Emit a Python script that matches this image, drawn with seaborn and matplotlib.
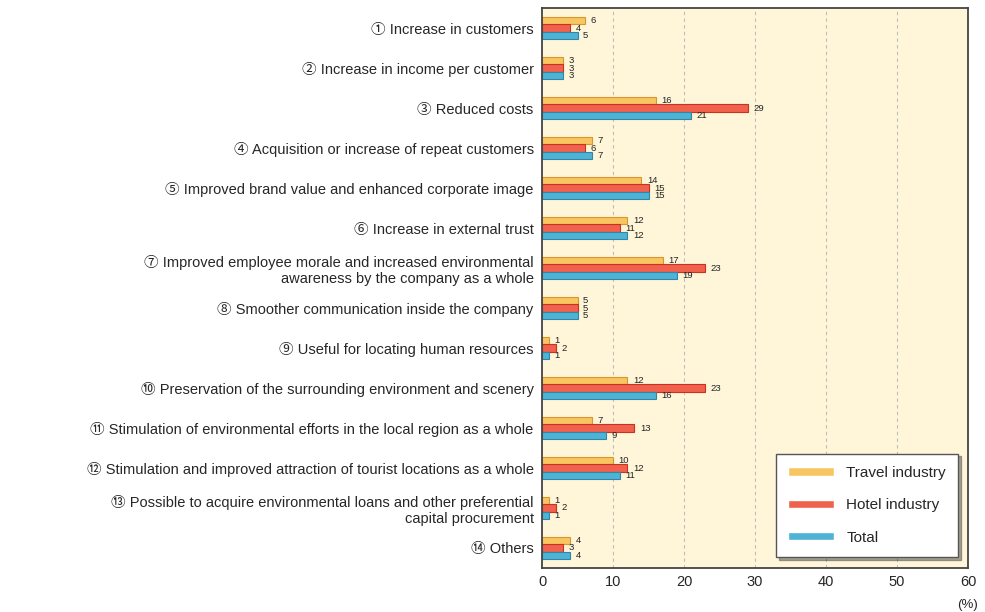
import matplotlib
matplotlib.use("Agg")
import matplotlib.pyplot as plt
import seaborn as sns
import pandas as pd
import numpy as np

categories = [
    "① Increase in customers",
    "② Increase in income per customer",
    "③ Reduced costs",
    "④ Acquisition or increase of repeat customers",
    "⑤ Improved brand value and enhanced corporate image",
    "⑥ Increase in external trust",
    "⑦ Improved employee morale and increased environmental\nawareness by the company as a whole",
    "⑧ Smoother communication inside the company",
    "⑨ Useful for locating human resources",
    "⑩ Preservation of the surrounding environment and scenery",
    "⑪ Stimulation of environmental efforts in the local region as a whole",
    "⑫ Stimulation and improved attraction of tourist locations as a whole",
    "⑬ Possible to acquire environmental loans and other preferential\ncapital procurement",
    "⑭ Others",
]
series = ["Travel industry", "Hotel industry", "Total"]
travel = [6, 3, 16, 7, 14, 12, 17, 5, 1, 12, 7, 10, 1, 4]
hotel = [4, 3, 29, 6, 15, 11, 23, 5, 2, 23, 13, 12, 2, 3]
total = [5, 3, 21, 7, 15, 12, 19, 5, 1, 16, 9, 11, 1, 4]
x_ticks = [0, 10, 20, 30, 40, 50, 60]

colors = ["#F7C562", "#F0614E", "#4FB3D6"]
edges = ["#D9962A", "#C8321F", "#2E86A8"]

sns.set_theme(style="white")
plt.rcParams["font.family"] = ["Liberation Sans", "Noto Sans CJK JP", "DejaVu Sans"]

df = pd.DataFrame({
    "category": np.repeat(categories, 3),
    "series": series * len(categories),
    "value": np.ravel(np.column_stack([travel, hotel, total])),
})

fig = plt.figure(figsize=(9.85, 6.12), dpi=100)
ax = fig.add_axes([0.5503, 0.0719, 0.4324, 0.915])
ax.set_facecolor("#FFF6D9")

sns.barplot(data=df, y="category", x="value", hue="series", orient="h",
            palette=colors, width=0.56, ax=ax, legend=True, saturation=1)

for cont, ec in zip(ax.containers, edges):
    for bar in cont:
        bar.set_edgecolor(ec)
        bar.set_linewidth(0.8)
    ax.bar_label(cont, padding=4, fontsize=6.8, color="#222222")

ax.set_xlim(0, 60)
ax.set_ylim(len(categories) - 0.5, -0.5)
ax.set_xticks(x_ticks)
ax.set_xticklabels([str(t) for t in x_ticks], fontsize=10.5)
ax.set_xlabel("")
ax.set_ylabel("")
ax.tick_params(axis="y", length=0, labelsize=10.5, pad=6)
ax.tick_params(axis="x", length=0, pad=5)
ax.set_yticks(np.arange(-0.5, len(categories), 1.0), minor=True)
ax.tick_params(axis="y", which="minor", length=5, width=1.2, color="#333333", direction="in")
for lbl in ax.get_yticklabels():
    lbl.set_multialignment("right")

for t in x_ticks[1:-1]:
    ax.axvline(t, color="#BBBBBB", linestyle=(0, (3, 3)), linewidth=0.8, zorder=0)

for s in ax.spines.values():
    s.set_color("#444444")
    s.set_linewidth(1.3)

ax.annotate("(%)", xy=(60, 0), xycoords=("data", "axes fraction"),
            xytext=(0, -22), textcoords="offset points",
            ha="center", va="top", fontsize=9.5)

handles, labels = ax.get_legend_handles_labels()
leg = ax.legend(handles, labels, loc="lower right", bbox_to_anchor=(0.977, 0.02),
                borderaxespad=0, frameon=True, fancybox=False, shadow=True,
                fontsize=11, handlelength=3.0, handleheight=0.45,
                labelspacing=1.2, borderpad=0.8, edgecolor="#555555")
leg.get_frame().set_facecolor("white")
leg.get_frame().set_linewidth(1.0)

fig.savefig("out.png", dpi=100)
